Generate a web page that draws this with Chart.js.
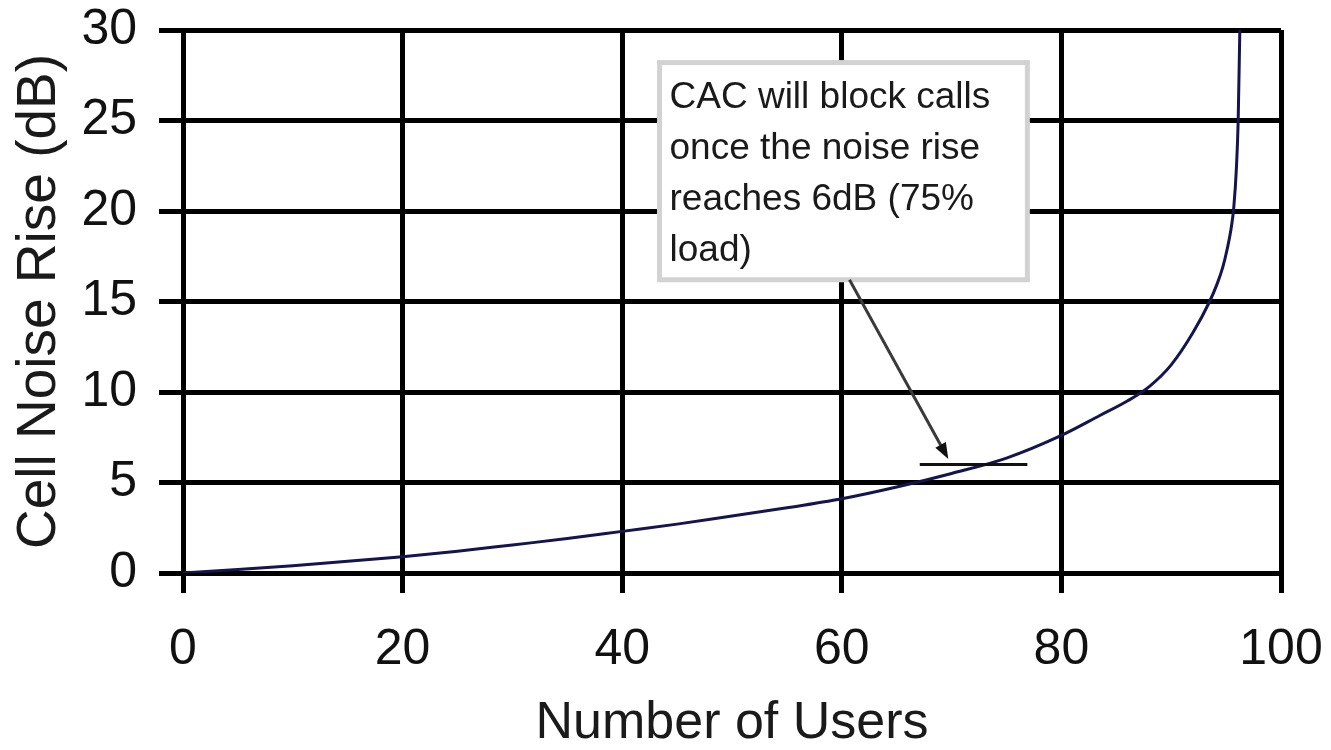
<!DOCTYPE html>
<html>
<head>
<meta charset="utf-8">
<script src="https://cdn.jsdelivr.net/npm/chart.js@4.4.1/dist/chart.umd.min.js"></script>
<style>
  html,body{margin:0;padding:0;background:#fff;}
  #wrap{width:1331px;height:750px;}
</style>
</head>
<body>
<div id="wrap"><canvas id="chart" width="1331" height="750"></canvas></div>
<script>
// values
const users=[0,5,10,15,20,25,30,35,40,45,50,55,60,65,70,75,80,83.5,86,88,90,92,93.5,94.2,94.7,95.1,95.45,95.7,95.95,96.1,96.25];
const noiseRise=[0,0.2,0.4,0.65,0.9,1.2,1.55,1.9,2.3,2.7,3.15,3.6,4.1,4.75,5.5,6.35,7.6,8.7,9.5,10.3,11.5,13.3,15,16,16.9,17.9,19,20.2,22.5,25,30];
const xTicks=[0,20,40,60,80,100];
const yTicks=[0,5,10,15,20,25,30];
const noteLines=['CAC will block calls','once the noise rise','reaches 6dB (75%','load)'];

const FONT='"Liberation Sans", Arial, sans-serif';

// callout box + arrow, placed in data units
const callout={
  id:'callout',
  afterDatasetsDraw(chart){
    const {ctx,scales:{x,y}}=chart;
    const bx0=x.getPixelForValue(43.4), bx1=x.getPixelForValue(76.9);
    const by0=y.getPixelForValue(28.2), by1=y.getPixelForValue(16.2);
    ctx.save();
    ctx.fillStyle='#fff';
    ctx.fillRect(bx0,by0,bx1-bx0,by1-by0);
    ctx.strokeStyle='#d2d2d2';
    ctx.lineWidth=5;
    ctx.strokeRect(bx0,by0,bx1-bx0,by1-by0);
    ctx.fillStyle='#1a1a1a';
    ctx.font='37px '+FONT;
    ctx.textBaseline='alphabetic';
    noteLines.forEach((t,i)=>ctx.fillText(t,bx0+10,by0+45+i*51));

    // arrow
    const ax0=x.getPixelForValue(60.7), ay0=by1;
    const ax1=x.getPixelForValue(69.7), ay1=y.getPixelForValue(6.3);
    ctx.strokeStyle='#3a3a3a';
    ctx.lineWidth=3;
    const ang=Math.atan2(ay1-ay0,ax1-ax0);
    const hl=16;
    ctx.beginPath();
    ctx.moveTo(ax0,ay0);
    ctx.lineTo(ax1-Math.cos(ang)*hl*0.8,ay1-Math.sin(ang)*hl*0.8);
    ctx.stroke();
    ctx.fillStyle='#111';
    ctx.beginPath();
    ctx.moveTo(ax1,ay1);
    ctx.lineTo(ax1-hl*Math.cos(ang)+6*Math.sin(ang),ay1-hl*Math.sin(ang)-6*Math.cos(ang));
    ctx.lineTo(ax1-hl*Math.cos(ang)-6*Math.sin(ang),ay1-hl*Math.sin(ang)+6*Math.cos(ang));
    ctx.closePath();
    ctx.fill();

    // 6 dB marker
    const ly=y.getPixelForValue(6.0);
    ctx.strokeStyle='#111';
    ctx.lineWidth=3;
    ctx.beginPath();
    ctx.moveTo(x.getPixelForValue(67.1),ly);
    ctx.lineTo(x.getPixelForValue(76.9),ly);
    ctx.stroke();
    ctx.restore();
  }
};

new Chart(document.getElementById('chart'),{
  type:'scatter',
  data:{datasets:[{
    data:users.map((u,i)=>({x:u,y:noiseRise[i]})),
    showLine:true,
    borderColor:'#14144e',
    borderWidth:3,
    pointRadius:0,
    cubicInterpolationMode:'monotone',
    fill:false
  }]},
  options:{
    responsive:false,
    animation:false,
    layout:{padding:{top:30,right:50,left:0,bottom:0}},
    plugins:{legend:{display:false},tooltip:{enabled:false}},
    scales:{
      x:{
        type:'linear',min:0,max:100,
        afterBuildTicks:s=>{s.ticks=xTicks.map(v=>({value:v}));},
        afterFit:s=>{s.height=177;s.paddingLeft=0;s.paddingRight=0;},
        grid:{color:'#000',lineWidth:5,tickLength:20,tickWidth:5,tickColor:'#000'},
        border:{color:'#000',width:5},
        ticks:{color:'#111',padding:32,font:{family:FONT,size:50,lineHeight:1},maxRotation:0},
        title:{display:true,text:'Number of Users',color:'#1a1a1a',padding:{top:0,bottom:0},font:{family:FONT,size:52,lineHeight:1}}
      },
      y:{
        type:'linear',min:0,max:30,
        afterBuildTicks:s=>{s.ticks=yTicks.map(v=>({value:v}));},
        afterFit:s=>{s.width=183;s.paddingTop=0;s.paddingBottom=0;},
        grid:{color:'#000',lineWidth:5,tickLength:24,tickWidth:5,tickColor:'#000'},
        border:{color:'#000',width:5},
        ticks:{color:'#111',padding:22,font:{family:FONT,size:50,lineHeight:1}},
        title:{display:true,text:'Cell Noise Rise (dB)',color:'#1a1a1a',padding:{top:12,bottom:0},font:{family:FONT,size:55,lineHeight:1}}
      }
    }
  },
  plugins:[callout]
});
</script>
</body>
</html>
